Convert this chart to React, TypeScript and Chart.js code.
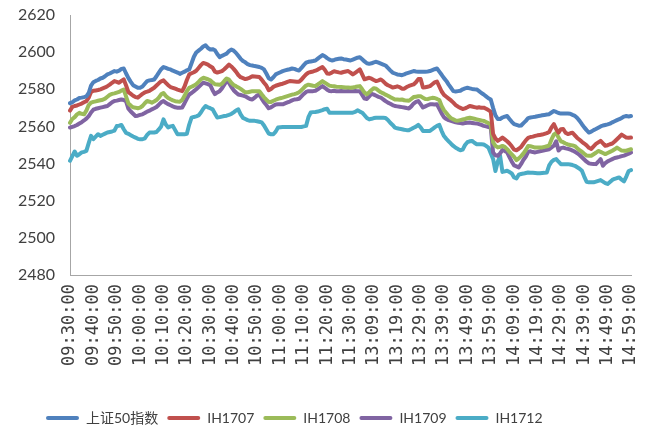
import React, { useEffect, useRef } from "react";
import { Chart, registerables } from "chart.js";

Chart.register(...registerables);

// ---- categories (trading minutes) ----
const pad2 = (n: number) => (n < 10 ? "0" + n : "" + n);
const toLabel = (mins: number) => `${pad2(Math.floor(mins / 60))}:${pad2(mins % 60)}:00`;
const sessions: [number, number][] = [
  [9 * 60 + 30, 11 * 60 + 30],
  [13 * 60, 14 * 60 + 59],
];
const times: string[] = [];
for (const [a, b] of sessions) for (let m = a; m <= b; m++) times.push(toLabel(m));

const tickEvery = 10;
const yTicks = { min: 2480, max: 2620, step: 20 };

const seriesNames = ["上证50指数", "IH1707", "IH1708", "IH1709", "IH1712"];
const seriesColors = ["#4F81BD", "#C0504D", "#9BBB59", "#8064A2", "#4BACC6"];

const sz50: number[] = [
  2572.5, 2573, 2574, 2574.5, 2575.3, 2575.5, 2575.8, 2576.2, 2578, 2582,
  2583.8, 2584.5, 2585, 2585.8, 2586.2, 2587, 2588, 2588.5, 2589.2, 2589.8,
  2589.5, 2590, 2591, 2591.2, 2588.5, 2586, 2584, 2582.2, 2581.5, 2580.8,
  2580.8, 2581.5, 2583, 2584.4, 2584.8, 2585, 2585.3, 2587, 2589, 2590.8,
  2592, 2591.5, 2591, 2590.7, 2590, 2589.5, 2589, 2588.3, 2588.9, 2589.5,
  2590.2, 2590.7, 2594, 2597.5, 2599.8, 2600.8, 2601.8, 2603, 2603.7, 2602.2,
  2601.4, 2601.6, 2601, 2599, 2597.3, 2598, 2598.6, 2599.2, 2600.5, 2601.4,
  2600.8, 2599.6, 2598, 2596.4, 2595.2, 2594.5, 2593.5, 2593, 2592.8, 2592.5,
  2592.3, 2592, 2591.5, 2590.7, 2588.5, 2586, 2585.3, 2586.5, 2588, 2588.6,
  2589.2, 2589.8, 2590.2, 2590.5, 2590.8, 2591.2, 2591, 2590.5, 2590.1, 2591.5,
  2593, 2594.3, 2594.8, 2595, 2595.2, 2595.5, 2596.5, 2597.5, 2598.4, 2597.8,
  2596.8, 2596, 2595.5, 2595.8, 2596.2, 2596.4, 2596.6, 2596.2, 2596, 2595.8,
  2595.5, 2596, 2596.5, 2597, 2597.3, 2596.2, 2595, 2594, 2593.7, 2594,
  2594.5, 2594.8, 2594.3, 2593.8, 2593.3, 2592.8, 2591.5, 2590.2, 2589, 2588.5,
  2588, 2587.8, 2587.6, 2588, 2588.6, 2589, 2589.4, 2589.8, 2589.6, 2589.5,
  2589.4, 2589.4, 2589.5, 2589.6, 2589.8, 2590.3, 2590.8, 2591.2, 2589.5, 2587.8,
  2586, 2584.5, 2582.5, 2580.8, 2579, 2578.8, 2579, 2579.2, 2580, 2580.5,
  2580.8, 2580.5, 2580.2, 2580, 2579.9, 2579, 2578, 2577.2, 2576.2, 2575.2,
  2574.5, 2570, 2566, 2564, 2564, 2564.8, 2565.3, 2565.6, 2564, 2562.5,
  2561.2, 2560.8, 2560.4, 2560.5, 2561.8, 2563, 2564.5, 2564.8, 2565, 2565.2,
  2565.5, 2565.7, 2566, 2566.2, 2566.4, 2566.6, 2567.5, 2568.3, 2567.8, 2567.2,
  2566.9, 2566.9, 2567, 2566.9, 2566.8, 2566.2, 2565.7, 2564.5, 2563, 2561.2,
  2559.5, 2558, 2556.7, 2557.2, 2558, 2558.6, 2559.3, 2560, 2560.5, 2560.8,
  2561.1, 2561.5, 2562.2, 2562.8, 2563.4, 2563.9, 2564.6, 2565.3, 2565.6, 2565.4,
  2565.6,
];

const ih1707: number[] = [
  2568.5, 2570.5, 2571, 2571.3, 2571.8, 2572.3, 2573, 2573.6, 2575.5, 2578.5,
  2579.2, 2579.4, 2579.6, 2580, 2580.5, 2581, 2581.7, 2582.5, 2583.5, 2584.4,
  2584, 2583.5, 2584.5, 2585.3, 2582, 2578.5, 2577.5, 2576.5, 2575.8, 2575.5,
  2576.5, 2577.5, 2578.3, 2578.7, 2579.2, 2580, 2580.8, 2582, 2583.2, 2584.3,
  2584.8, 2583.5, 2582.2, 2581.2, 2580.8, 2580.3, 2579.8, 2579.4, 2579, 2581.5,
  2585, 2588, 2588.6, 2589.2, 2590, 2591.5, 2593, 2594.2, 2593.8, 2593.3,
  2592.4, 2591.6, 2589.5, 2589, 2589.4, 2589.8, 2590.8, 2592, 2593.3, 2592.3,
  2591, 2589.5, 2587.7, 2586.5, 2586, 2585.5, 2585.8, 2586.3, 2587, 2586.9,
  2586.8, 2586.6, 2585.2, 2583.5, 2582, 2579.5, 2580.2, 2581.3, 2581.9, 2582.3,
  2582.7, 2583, 2583.5, 2584, 2584.4, 2584.3, 2584.2, 2584.1, 2584.1, 2585.2,
  2586.7, 2588, 2589, 2589.3, 2589.6, 2590, 2590.6, 2591.3, 2592, 2590.5,
  2588.5, 2588.4, 2589, 2589.7, 2589.4, 2589.1, 2588.9, 2589.3, 2589.6, 2589.8,
  2589, 2588, 2588.9, 2589.8, 2590.7, 2588, 2585.4, 2585.8, 2586.2, 2585.7,
  2585, 2584.4, 2584.8, 2585.3, 2584.3, 2583, 2582.2, 2581.6, 2580.9, 2581.2,
  2581.6, 2581.2, 2580.3, 2580.3, 2581.2, 2581.8, 2582.2, 2582.6, 2583.8, 2585.5,
  2585.5, 2581, 2581.1, 2581.4, 2581.7, 2582.7, 2583.7, 2584.2, 2581.5, 2578.8,
  2577, 2576, 2575, 2574, 2572.8, 2571.5, 2570.6, 2570, 2569.4, 2569.7,
  2570.3, 2571, 2570.7, 2570.4, 2570.1, 2570.3, 2570, 2570.1, 2569.5, 2568.8,
  2568, 2556, 2553.5, 2552.2, 2553, 2554, 2553, 2552, 2550.8, 2549.3,
  2547.5, 2547.2, 2548, 2549, 2550.8, 2552.5, 2553.8, 2554.3, 2554.5, 2554.9,
  2555.2, 2555.4, 2555.6, 2556, 2556.4, 2557, 2559.5, 2561.2, 2558.5, 2556.7,
  2558.5, 2558.6, 2556.6, 2555.9, 2556.3, 2556.6, 2555.2, 2553.8, 2552.8, 2551.7,
  2550.8, 2549.8, 2548.5, 2547.9, 2549.3, 2550.6, 2551.4, 2552.2, 2550.9, 2549.6,
  2549.9, 2550.4, 2550.8, 2551.9, 2553.1, 2554.3, 2555.6, 2554.8, 2554, 2553.9,
  2554,
];

const ih1708: number[] = [
  2562, 2564, 2565, 2566.5, 2567.3, 2566.8, 2566.5, 2568.5, 2571.5, 2572.8,
  2573.2, 2573.5, 2573.8, 2574.1, 2574.4, 2575, 2576, 2577, 2577.5, 2577.8,
  2578.2, 2578.6, 2579.3, 2579.9, 2576, 2572.3, 2571.2, 2570.3, 2570.1, 2569.8,
  2570.1, 2571, 2572.5, 2573.7, 2573.3, 2572.8, 2573.4, 2574.2, 2575.5, 2577.3,
  2578, 2576.4, 2575.3, 2574.6, 2574, 2573.6, 2573.4, 2573.3, 2574.3, 2576.5,
  2579, 2580.8, 2581.4, 2582, 2582.8, 2584, 2585.3, 2586.2, 2585.8, 2585.4,
  2584.8, 2583.7, 2582.7, 2582.6, 2582.4, 2583, 2584.5, 2585.8, 2585.2, 2583.5,
  2582.3, 2581.7, 2581, 2580.2, 2579.3, 2578.4, 2578.4, 2578.7, 2579, 2579,
  2578.9, 2579, 2577.3, 2575.7, 2574.4, 2573.2, 2573.2, 2573.8, 2574.4, 2574.8,
  2575.2, 2575.5, 2575.9, 2576.3, 2576.7, 2577.1, 2577.4, 2577.8, 2578.4, 2579.5,
  2580.8, 2582, 2582.5, 2582.2, 2581.9, 2581.8, 2582.6, 2583.5, 2584.4, 2583.6,
  2582.8, 2582, 2581.7, 2581.6, 2581.4, 2581.3, 2581.2, 2581.1, 2581, 2580.9,
  2580.8, 2581, 2581.2, 2581.5, 2581.7, 2580, 2578.2, 2577.3, 2578.4, 2579.6,
  2580.6, 2580.3, 2579.3, 2578.4, 2577.8, 2577.1, 2576.5, 2575.8, 2575.2, 2574.5,
  2574.5, 2574.4, 2574.5, 2574.1, 2573.9, 2573.8, 2574.8, 2575.8, 2576, 2576.2,
  2576.2, 2575.5, 2574.8, 2574.7, 2575.1, 2575.4, 2575.3, 2574.8, 2574.2, 2571,
  2568.7, 2567.2, 2565.6, 2564.4, 2563.8, 2563.2, 2563.1, 2563.4, 2563.7, 2564,
  2564.4, 2564.7, 2564.4, 2564.1, 2563.8, 2563.5, 2563.2, 2563, 2562.4, 2561.8,
  2561, 2551.5, 2549.5, 2548.7, 2549, 2549.5, 2549, 2547.8, 2546.3, 2545,
  2543.6, 2541.8, 2542.8, 2544, 2545.5, 2547.3, 2549.4, 2549.3, 2549, 2548.6,
  2548.6, 2548.6, 2548.7, 2549, 2549.3, 2549.8, 2553, 2555.6, 2556.5, 2554,
  2552, 2551.5, 2550.8, 2550.3, 2550, 2549.8, 2549.4, 2548.3, 2547.2, 2546.4,
  2545.3, 2544.3, 2544.2, 2544.2, 2545, 2545.8, 2546.8, 2546.3, 2545.7, 2545.1,
  2545.7, 2546.3, 2546.9, 2547.7, 2548.6, 2547.8, 2547, 2546.9, 2546.9, 2547.3,
  2547.7,
];

const ih1709: number[] = [
  2559.4, 2559.8, 2560.2, 2560.8, 2561.6, 2562.3, 2563.2, 2564.2, 2565.5, 2567.5,
  2569, 2569.5, 2569.8, 2570.1, 2570.4, 2570.7, 2571, 2572, 2573, 2573.7,
  2573.9, 2574.2, 2574.5, 2574.2, 2573.5, 2569.5, 2568, 2566.8, 2565.6, 2565.8,
  2566.2, 2566.5, 2567.2, 2568, 2568.5, 2569.2, 2569.8, 2570.5, 2571.7, 2573,
  2573.7, 2572.7, 2572, 2571.4, 2570.8, 2570.3, 2570.1, 2570, 2570.2, 2572.5,
  2575, 2577.2, 2578, 2579, 2580, 2581.2, 2582.4, 2583.5, 2583.2, 2582.8,
  2582.2, 2579.5, 2577.4, 2578.3, 2579, 2580.5, 2582.5, 2584.4, 2583.5, 2581.3,
  2579.5, 2578.3, 2577.2, 2576.9, 2576.6, 2576.2, 2575.5, 2574.8, 2574.5, 2575.5,
  2576.6, 2577.2, 2575, 2573, 2571.5, 2569.8, 2570.3, 2571.1, 2571.8, 2571.9,
  2571.9, 2571.9, 2572.4, 2572.9, 2573.4, 2574, 2574.5, 2574.6, 2574.9, 2576.2,
  2577.5, 2578.6, 2579, 2579, 2579, 2579.2, 2580, 2580.9, 2581.7, 2580.8,
  2579.8, 2579.1, 2579, 2579.2, 2578.9, 2579, 2579.1, 2578.9, 2579, 2579.1,
  2578.9, 2579, 2579.1, 2579, 2579, 2577, 2575, 2574.8, 2576.2, 2577.6,
  2577.1, 2576.5, 2575.9, 2575.5, 2574.6, 2573.6, 2572.8, 2572.2, 2571.5, 2571,
  2570.8, 2570.6, 2570.4, 2570.2, 2569.9, 2569.7, 2570.8, 2572.3, 2573.2, 2573.7,
  2572, 2570.2, 2570.8, 2571.4, 2571.9, 2571.9, 2571.8, 2571.9, 2569.5, 2567,
  2564.9, 2564, 2563.4, 2563, 2562.6, 2562.2, 2562, 2561.8, 2561.6, 2561.8,
  2562, 2562.1, 2561.9, 2561.7, 2561.6, 2561.2, 2560.8, 2560.3, 2560, 2559.7,
  2559.4, 2546, 2544.5, 2544.2, 2545.5, 2547.3, 2546.8, 2546, 2543.5, 2541,
  2539, 2538.5, 2537.9, 2539.8, 2542, 2543.8, 2546.3, 2546.6, 2546.2, 2546,
  2546.3, 2546.6, 2546.9, 2547.2, 2547.4, 2547.7, 2548.7, 2549.6, 2552, 2547,
  2548.3, 2548.6, 2548.2, 2547.9, 2547.6, 2547, 2546.3, 2545.6, 2544.6, 2543.4,
  2542.2, 2541, 2540.1, 2539.9, 2539.8, 2539.7, 2541, 2542.4, 2538.8, 2540.3,
  2541.2, 2541.8, 2542.4, 2543, 2543.3, 2543.6, 2544, 2544.3, 2544.8, 2545.3,
  2546,
];

const ih1712: number[] = [
  2541.5, 2544, 2546.5, 2544.2, 2545, 2546, 2546.3, 2546.8, 2551, 2554.9,
  2553.2, 2554.5, 2555.8, 2554.9, 2555.5, 2556.1, 2556.7, 2557, 2557.3, 2557.7,
  2560.2, 2560.4, 2560.8, 2558.5, 2556.5, 2556, 2555.3, 2554.6, 2554, 2553.3,
  2553.1, 2553.1, 2553.6, 2555.4, 2556.7, 2556.7, 2556.7, 2557, 2558.4, 2560,
  2563.8, 2561, 2559.5, 2560, 2560.3, 2558, 2555.8, 2555.8, 2555.8, 2555.8,
  2556, 2561, 2564.7, 2565.1, 2565.4, 2565.9, 2567.5, 2569.5, 2571, 2570.3,
  2569.8, 2569.2, 2567, 2564.8, 2565, 2565.3, 2565.6, 2565.8, 2566.2, 2566.7,
  2567.6, 2568.6, 2569.2, 2566.5, 2564.6, 2564, 2563.4, 2563, 2563, 2563,
  2562.8, 2562.5, 2562.2, 2560.5, 2558.3, 2556.2, 2555.8, 2555.8, 2557.2, 2559.4,
  2559.6, 2559.7, 2559.7, 2559.7, 2559.7, 2559.7, 2559.7, 2559.7, 2559.7, 2559.7,
  2560, 2560.3, 2565, 2567.5, 2567.7, 2567.8, 2568, 2568.4, 2568.8, 2569.3,
  2569.5, 2567.4, 2567.4, 2567.4, 2567.4, 2567.4, 2567.4, 2567.4, 2567.4, 2567.4,
  2567.4, 2567.4, 2567.8, 2568.7, 2568, 2567.4, 2566, 2564.5, 2563.8, 2564.1,
  2564.5, 2564.7, 2564.7, 2564.7, 2564.7, 2564.6, 2563.5, 2562, 2560.8, 2559.4,
  2559, 2558.7, 2558.5, 2558.2, 2558, 2558, 2558.6, 2559.3, 2559.9, 2560.8,
  2559.5, 2557.6, 2557.6, 2557.6, 2557.6, 2558.5, 2559.5, 2560.3, 2560.8, 2557.5,
  2554.8, 2553.3, 2552, 2550.7, 2549.5, 2548.5, 2547.8, 2547.2, 2547.5, 2550,
  2551.5, 2552, 2552.2, 2551.2, 2550.4, 2550.4, 2550.4, 2550.3, 2549.5, 2548.6,
  2545.5, 2542.5, 2536, 2541, 2544.2, 2535.5, 2535.8, 2536.1, 2535.4, 2534.7,
  2532.5, 2532, 2534, 2534.4, 2534.6, 2534.9, 2535.2, 2535.1, 2535, 2534.9,
  2534.8, 2534.8, 2534.9, 2535, 2535.2, 2539, 2541, 2542, 2542.4, 2541,
  2539.7, 2539.7, 2539.7, 2539.7, 2539.5, 2539.2, 2538.8, 2538, 2537.2, 2536.1,
  2533, 2530.2, 2529.9, 2529.9, 2529.9, 2530.3, 2530.7, 2531.1, 2530.3, 2529.5,
  2529, 2530.1, 2531.2, 2531.8, 2532.2, 2532.5, 2531.3, 2530.4, 2533, 2536,
  2536.5,
];

const seriesValues = [sz50, ih1707, ih1708, ih1709, ih1712];

const FONT = "Lato, 'Noto Sans CJK SC', sans-serif";
const XFONT = "'DejaVu Sans Mono', monospace";
const TEXT = "#404040";
const AXIS = "#A6A6A6";

const legendShift = {
  id: "legendShift",
  afterLayout(chart: any) {
    if (chart.legend) chart.legend.left = 37;
  },
};

export default function App() {
  const ref = useRef<HTMLCanvasElement | null>(null);

  useEffect(() => {
    if (!ref.current) return;
    const chart = new Chart(ref.current, {
      type: "line",
      data: {
        labels: times,
        datasets: seriesNames.map((name, k) => ({
          label: name,
          data: seriesValues[k],
          borderColor: seriesColors[k],
          backgroundColor: seriesColors[k],
          borderWidth: 4,
          pointRadius: 0,
          pointHoverRadius: 0,
          tension: 0,
          fill: false,
          borderJoinStyle: "round" as const,
          borderCapStyle: "round" as const,
        })),
      },
      plugins: [legendShift],
      options: {
        animation: false,
        responsive: false,
        maintainAspectRatio: false,
        events: [],
        layout: { padding: { left: 18, right: 31, top: 15, bottom: -3 } },
        plugins: {
          tooltip: { enabled: false },
          legend: {
            position: "bottom",
            align: "start",
            labels: {
              font: { family: FONT, size: 14 },
              color: TEXT,
              boxWidth: 33,
              boxHeight: 4,
              padding: 9,
              generateLabels: (c: any) =>
                c.data.datasets.map((ds: any, i: number) => ({
                  text: ds.label,
                  fillStyle: ds.borderColor,
                  strokeStyle: ds.borderColor,
                  lineWidth: 0,
                  borderRadius: 2,
                  fontColor: TEXT,
                  hidden: false,
                  datasetIndex: i,
                })),
            },
          },
        },
        scales: {
          x: {
            type: "category",
            offset: false,
            grid: { display: false, drawTicks: false },
            border: { display: true, color: AXIS, width: 1 },
            ticks: {
              autoSkip: false,
              minRotation: 90,
              maxRotation: 90,
              padding: 9,
              color: TEXT,
              font: { family: XFONT, size: 17 },
              callback: (_v: any, i: number) => (i % tickEvery === 0 ? times[i] : ""),
            },
            afterFit: (s: any) => {
              s.height = 127;
            },
          },
          y: {
            min: yTicks.min,
            max: yTicks.max,
            grid: { display: false, drawTicks: false },
            border: { display: true, color: AXIS, width: 1 },
            ticks: {
              stepSize: yTicks.step,
              padding: 0,
              crossAlign: "far",
              color: TEXT,
              font: { family: FONT, size: 16 },
              callback: (v: any) => String(v),
            },
            afterFit: (s: any) => {
              s.width = 52;
            },
          },
        },
      },
    });
    return () => chart.destroy();
  }, []);

  return (
    <div style={{ position: "fixed", left: 0, top: 0, width: 662, height: 432, background: "#fff" }}>
      <canvas ref={ref} width={662} height={432} style={{ width: 662, height: 432 }} />
    </div>
  );
}
